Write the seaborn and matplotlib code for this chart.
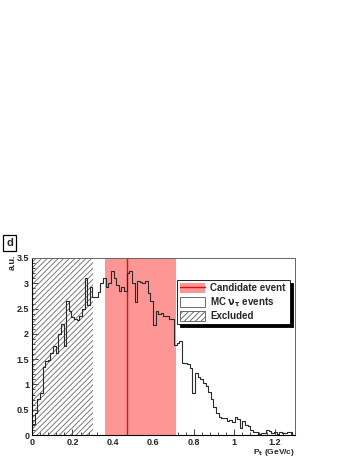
import numpy as np
import pandas as pd
import matplotlib
matplotlib.use('Agg')
import matplotlib.pyplot as plt
import seaborn as sns
from matplotlib.patches import Patch
from matplotlib.lines import Line2D
from matplotlib.ticker import MultipleLocator, FuncFormatter

# DATA
# MC nu_tau events, 100 bins between 0 and 1.3 GeV/c (a.u.)
bin_edges = list(np.linspace(0, 1.3, 101))
mc_values = [0.22, 0.43, 0.72, 0.83, 1.34, 1.47, 1.48, 1.62, 1.75, 1.62,
             2.0, 2.2, 1.75, 2.65, 2.45, 2.33, 2.3, 2.27, 2.35, 2.5,
             3.1, 2.57, 2.93, 2.73, 2.73, 2.83, 3.0, 3.1, 2.93, 3.0,
             3.25, 3.1, 2.97, 2.85, 2.93, 2.85, 3.2, 3.25, 3.0, 2.63,
             3.05, 3.03, 3.0, 3.05, 2.8, 2.65, 2.17, 2.45, 2.4, 2.42,
             2.35, 2.35, 2.3, 2.3, 1.78, 1.81, 1.86, 1.42, 1.42, 1.4,
             1.32, 0.84, 1.22, 1.15, 1.1, 1.02, 0.96, 0.86, 0.72, 0.56,
             0.44, 0.35, 0.33, 0.33, 0.27, 0.3, 0.25, 0.35, 0.32, 0.13,
             0.28, 0.2, 0.18, 0.1, 0.05, 0.06, 0.02, 0.04, 0.04, 0.09,
             0.07, 0.03, 0.05, 0.02, 0.05, 0.03, 0.04, 0.05, 0.05, 0.0]
excluded_range = [0.0, 0.3]
candidate_band = [0.36, 0.71]
candidate_pt = 0.47
legend_labels = ['Candidate event', r'MC $\nu_\tau$ events', 'Excluded']

sns.set_style('ticks')
plt.rcParams['font.family'] = ['Liberation Sans', 'DejaVu Sans']
plt.rcParams['font.weight'] = 'bold'
plt.rcParams['mathtext.default'] = 'bf'
plt.rcParams['hatch.linewidth'] = 0.6

fig = plt.figure(figsize=(3.54, 4.58), dpi=100)
ax = fig.add_axes([0.0904, 0.0502, 0.7429, 0.3865])

# excluded region (hatched)
ax.axvspan(*excluded_range, facecolor='none', edgecolor='#666666',
           hatch='//////', linewidth=0, zorder=1)
# candidate event band and line
ax.axvspan(*candidate_band, facecolor='#ff9696', edgecolor='none', zorder=1)
ax.axvline(candidate_pt, color='#e01010', linewidth=1.0, zorder=2)

# MC histogram
hist_df = pd.DataFrame({'pt': [0.5 * (a + b) for a, b in zip(bin_edges[:-1], bin_edges[1:])],
                        'w': mc_values})
sns.histplot(data=hist_df, x='pt', weights='w', bins=bin_edges, element='step',
             fill=False, color='#2a2a2a', linewidth=0.8, ax=ax, zorder=3)

ax.set_xlim(0, 1.3)
ax.set_ylim(0, 3.5)
ax.xaxis.set_major_locator(MultipleLocator(0.2))
ax.xaxis.set_minor_locator(MultipleLocator(0.04))
ax.yaxis.set_major_locator(MultipleLocator(0.5))
ax.yaxis.set_minor_locator(MultipleLocator(0.1))
ax.xaxis.set_major_formatter(FuncFormatter(lambda v, p: f'{v:g}'))
ax.yaxis.set_major_formatter(FuncFormatter(lambda v, p: f'{v:g}'))
ax.tick_params(which='both', direction='in', labelsize=6.5, width=0.6)
ax.tick_params(which='major', length=4, pad=2)
ax.tick_params(which='minor', length=2)
ax.tick_params(axis='x', pad=2.5)
for s in ['top', 'right']:
    ax.spines[s].set_visible(True)
    ax.spines[s].set_color('#666666')
    ax.spines[s].set_linewidth(0.7)
for s in ['left', 'bottom']:
    ax.spines[s].set_color('black')
    ax.spines[s].set_linewidth(0.8)

ax.set_ylabel('')
ax.set_xlabel(r'P$_\mathbf{t}$ (GeV/c)', loc='right', fontsize=6,
              fontweight='bold', labelpad=0)
fig.text(12 / 354, 1 - 254 / 458, 'a.u.', rotation=90, ha='center', va='top',
         fontsize=6.5, fontweight='bold')
fig.text(9.5 / 354, 1 - 243 / 458, 'd', ha='center', va='center', fontsize=8,
         fontweight='bold',
         bbox=dict(boxstyle='square,pad=0.25', fc='white', ec='black', lw=0.9))

handles = [(Patch(facecolor='#ff9696', edgecolor='none'),
            Line2D([], [], color='#e01010', linewidth=1.0)),
           Patch(facecolor='white', edgecolor='#555555', linewidth=0.6),
           Patch(facecolor='white', edgecolor='#555555', hatch='//////', linewidth=0.6)]
leg = ax.legend(handles, legend_labels, loc='upper left',
                bbox_to_anchor=(0.551, 0.627, 0.43, 0.249), mode='expand',
                borderaxespad=0, fontsize=7, frameon=True, fancybox=False,
                shadow={'color': 'black', 'alpha': 1}, handlelength=2.6,
                handleheight=1.2, labelspacing=0.2, borderpad=0.3,
                handletextpad=0.5)
leg.get_frame().set_edgecolor('black')
leg.get_frame().set_linewidth(0.6)

fig.savefig('out.png', dpi=100)
